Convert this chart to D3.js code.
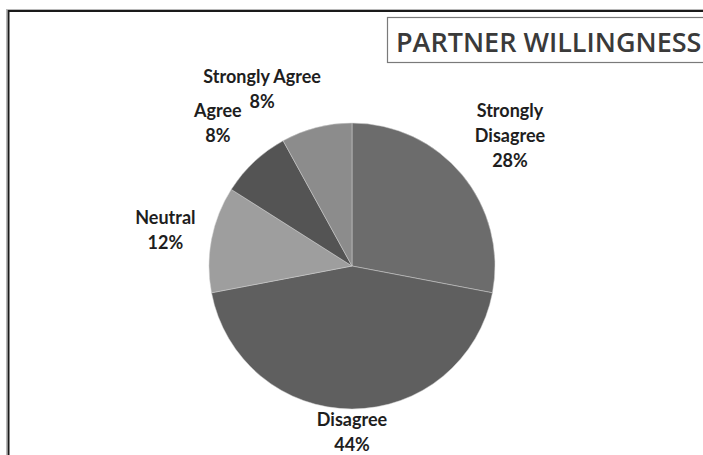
<!DOCTYPE html>
<html>
<head>
<meta charset="utf-8">
<script src="https://cdn.jsdelivr.net/npm/d3@7"></script>
<style>
  html, body { margin: 0; padding: 0; background: #fff; }
  svg { display: block; }
</style>
</head>
<body>
<svg id="chart" width="703" height="455"></svg>
<script>
// Survey responses: partner willingness
const categories = ["Strongly Disagree", "Disagree", "Neutral", "Agree", "Strongly Agree"];
const percents = [28, 44, 12, 8, 8];
const title = "PARTNER WILLINGNESS";

// Rendering settings
const W = 703, H = 455;
const cx = 352, cy = 266, R = 143;
const fills = ["#6c6c6c", "#5f5f5f", "#9e9e9e", "#545454", "#8c8c8c"];
const labelFont = "Lato, 'Open Sans', sans-serif";
// label radius from centre and optional angle override (degrees from 12 o'clock)
const labelLayout = [
  { r: 205 },
  { r: 166 },
  { r: 190 },
  { r: 196 },
  { r: 198, angle: 333 }
];

const svg = d3.select("#chart");

// outer chart frame
svg.append("rect")
  .attr("x", 6.5).attr("y", 9.5)
  .attr("width", W + 10).attr("height", H + 10)
  .attr("fill", "none").attr("stroke", "#b8b8b8").attr("stroke-width", 1);
svg.append("rect")
  .attr("x", 8.5).attr("y", 11)
  .attr("width", W + 10).attr("height", H + 10)
  .attr("fill", "none").attr("stroke", "#1a1a1a").attr("stroke-width", 2);

// title box
const tg = svg.append("g");
tg.append("rect")
  .attr("x", 387.5).attr("y", 17.5)
  .attr("width", 340).attr("height", 45)
  .attr("fill", "#fff").attr("stroke", "#7a7a7a").attr("stroke-width", 1.2);
tg.append("text")
  .attr("x", 396).attr("y", 52)
  .attr("font-family", "'Open Sans', sans-serif")
  .attr("font-weight", 600)
  .attr("font-size", 27)
  .attr("fill", "#3a3a3a")
  .text(title);

// pie
const pie = d3.pie().sort(null).value(d => d)(percents);
const arc = d3.arc().innerRadius(0).outerRadius(R);

const g = svg.append("g").attr("transform", `translate(${cx},${cy})`);
g.selectAll("path.slice")
  .data(pie)
  .join("path")
  .attr("class", "slice")
  .attr("d", arc)
  .attr("fill", (d, i) => fills[i])
  .attr("stroke", "#d0d0d0")
  .attr("stroke-width", 0.5);

// data labels outside the pie
const labels = g.selectAll("g.lbl")
  .data(pie)
  .join("g")
  .attr("class", "lbl")
  .attr("transform", (d, i) => {
    const lay = labelLayout[i];
    const a = lay.angle !== undefined ? lay.angle * Math.PI / 180 : (d.startAngle + d.endAngle) / 2;
    const x = Math.sin(a) * lay.r;
    const y = -Math.cos(a) * lay.r;
    return `translate(${x},${y})`;
  });

labels.each(function(d, i) {
  const name = categories[i];
  let lines;
  if (name === "Strongly Disagree") lines = ["Strongly", "Disagree"];
  else lines = [name];
  lines = lines.concat([d.data + "%"]);
  const lh = 25;
  const t = d3.select(this).append("text")
    .attr("text-anchor", "middle")
    .attr("font-family", labelFont)
    .attr("font-weight", "bold")
    .attr("font-size", 18)
    .attr("fill", "#1e1e1e");
  lines.forEach((s, k) => {
    t.append("tspan")
      .attr("x", 0)
      .attr("y", (k - (lines.length - 1) / 2) * lh)
      .attr("dy", "0.35em")
      .text(s);
  });
});
</script>
</body>
</html>
